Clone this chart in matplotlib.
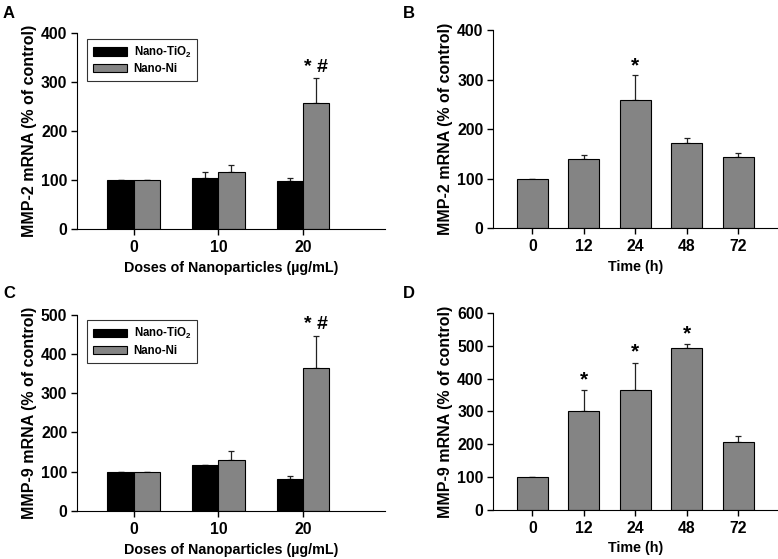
import numpy as np
import matplotlib
matplotlib.use('Agg')
from matplotlib import pyplot as plt

plt.rcParams['font.family'] = ['Liberation Sans', 'DejaVu Sans']
plt.rcParams['font.weight'] = 'bold'
plt.rcParams['mathtext.default'] = 'regular'

# dose panels (A, C)
doses = ['0', '10', '20']
mmp2_tio2 = [100, 105, 99]
mmp2_tio2_err = [0, 12, 6]
mmp2_ni = [100, 116, 258]
mmp2_ni_err = [0, 14, 51]
mmp9_tio2 = [100, 116, 82]
mmp9_tio2_err = [0, 2, 6]
mmp9_ni = [100, 130, 365]
mmp9_ni_err = [0, 23, 80]

# time panels (B, D)
times = ['0', '12', '24', '48', '72']
mmp2_time = [100, 139, 258, 171, 144]
mmp2_time_err = [0, 8, 52, 12, 7]
mmp9_time = [100, 300, 365, 492, 206]
mmp9_time_err = [0, 65, 84, 13, 20]

BLACK = '#000000'
GRAY = '#848484'


def style_axis(ax, ymax, ystep, ylabel, xlabel):
    ax.spines['top'].set_visible(False)
    ax.spines['right'].set_visible(False)
    ax.set_ylim(0, ymax)
    ax.set_yticks(np.arange(0, ymax + 1, ystep))
    ax.tick_params(axis='both', direction='out', length=4, width=1, labelsize=11.3)
    ax.tick_params(axis='x', pad=4)
    ax.tick_params(axis='y', pad=3)
    ax.set_ylabel(ylabel, fontsize=11.5, fontweight='bold', labelpad=3)
    ax.set_xlabel(xlabel, fontsize=10.3, fontweight='bold', labelpad=4)
    for lab in ax.get_xticklabels() + ax.get_yticklabels():
        lab.set_fontweight('bold')


def bar_err(ax, x, vals, errs, color, width):
    bars = ax.bar(x, vals, width=width, color=color, edgecolor='black', linewidth=0.8, zorder=2)
    ax.errorbar(x, vals, yerr=[np.zeros(len(errs)), errs], fmt='none',
                ecolor='#222222', elinewidth=0.9, capsize=2.5, capthick=0.9, zorder=1)
    return bars


def dose_panel(ax, tio2, tio2_err, ni, ni_err, ymax, ystep, ylabel, star_y):
    x = np.arange(len(doses))
    w = 0.31
    b1 = bar_err(ax, x - w / 2, tio2, tio2_err, BLACK, w)
    b2 = bar_err(ax, x + w / 2, ni, ni_err, GRAY, w)
    ax.set_xlim(-0.67, 2.97)
    ax.set_xticks(x)
    ax.set_xticklabels(doses)
    style_axis(ax, ymax, ystep, ylabel, 'Doses of Nanoparticles (\u00b5g/mL)')
    ax.text(2 + w / 2, star_y, '* #', ha='center', va='center', fontsize=14, fontweight='bold')
    leg = ax.legend([b1, b2], ['Nano-TiO$_2$', 'Nano-Ni'], loc='upper left', fontsize=8.3,
                    frameon=True, fancybox=False, edgecolor='black', handlelength=2.9,
                    handleheight=0.7, borderpad=0.5, labelspacing=0.3, handletextpad=0.6,
                    bbox_to_anchor=(0.015, 1.0))
    leg.get_frame().set_linewidth(0.8)
    for t in leg.get_texts():
        t.set_fontweight('bold')


def time_panel(ax, vals, errs, ymax, ystep, ylabel, stars):
    x = np.arange(len(times))
    bar_err(ax, x, vals, errs, GRAY, 0.6)
    ax.set_xlim(-0.76, 4.76)
    ax.set_xticks(x)
    ax.set_xticklabels(times)
    style_axis(ax, ymax, ystep, ylabel, 'Time (h)')
    for i, y in stars:
        ax.text(x[i], y, '*', ha='center', va='center', fontsize=15, fontweight='bold')


fig = plt.figure(figsize=(7.78, 5.59), dpi=100)
axA = fig.add_axes([0.099, 0.590, 0.396, 0.351])
axB = fig.add_axes([0.634, 0.592, 0.365, 0.354])
axC = fig.add_axes([0.099, 0.086, 0.396, 0.351])
axD = fig.add_axes([0.634, 0.088, 0.365, 0.352])

dose_panel(axA, mmp2_tio2, mmp2_tio2_err, mmp2_ni, mmp2_ni_err, 400, 100,
           'MMP-2 mRNA (% of control)', 330)
time_panel(axB, mmp2_time, mmp2_time_err, 400, 100, 'MMP-2 mRNA (% of control)',
           [(2, 328)])
dose_panel(axC, mmp9_tio2, mmp9_tio2_err, mmp9_ni, mmp9_ni_err, 500, 100,
           'MMP-9 mRNA (% of control)', 475)
time_panel(axD, mmp9_time, mmp9_time_err, 600, 100, 'MMP-9 mRNA (% of control)',
           [(1, 396), (2, 481), (3, 537)])

for lbl, (px, py) in zip('ABCD', [(3, 6), (403, 6), (3, 286), (403, 286)]):
    fig.text(px / 778, 1 - py / 559, lbl, fontsize=12, fontweight='bold', va='top', ha='left')

fig.savefig('out.png', dpi=100)
